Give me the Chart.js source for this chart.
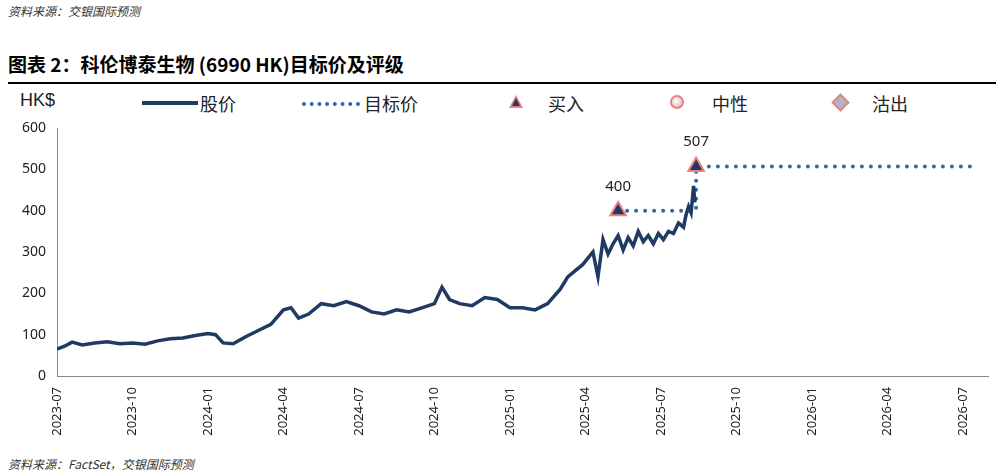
<!DOCTYPE html>
<html>
<head>
<meta charset="utf-8">
<script src="https://cdn.jsdelivr.net/npm/chart.js@4"></script>
<style>
  body { margin: 0; width: 1004px; height: 476px; background: #fff; font-family: "Noto Sans CJK SC", "Liberation Sans", sans-serif; position: relative; overflow: hidden; }
  .src { position: absolute; left: 8px; font-size: 12px; font-style: italic; color: #333; }
  #title { position: absolute; left: 8px; top: 50px; font-size: 19px; font-weight: bold; color: #000; }
  #rule { position: absolute; left: 8px; right: 8px; top: 82px; height: 2px; background: #000; }
  #legend { position: absolute; top: 90px; left: 0; width: 1004px; height: 26px; font-size: 18px; color: #222; }
  #legend span { position: absolute; top: 0; }
  #wrap { position: absolute; left: 0; top: 115px; width: 1004px; height: 335px; }
</style>
</head>
<body>
<div class="src" style="top:2px">资料来源：交银国际预测</div>
<div id="title">图表 2：科伦博泰生物 (6990 HK)目标价及评级</div>
<div id="rule"></div>
<div id="legend">
  <span style="left:20px;font-family:'Liberation Sans Narrow','Liberation Sans';">HK$</span>
  <span style="left:142px;top:11px;width:56px;height:4px;background:#1f3b63"></span>
  <span style="left:200px">股价</span>
  <span style="left:302px;top:12px;width:58px;border-top:4px dotted #2a6aad"></span>
  <span style="left:364px">目标价</span>
  <span style="left:509px;top:5px;width:0;height:0;border-left:7px solid transparent;border-right:7px solid transparent;border-bottom:13px solid #f08080"></span>
  <span style="left:512px;top:8px;width:0;height:0;border-left:4px solid transparent;border-right:4px solid transparent;border-bottom:8px solid #1f3b63"></span>
  <span style="left:548px">买入</span>
  <span style="left:670px;top:5px;width:10px;height:10px;border-radius:50%;border:2px solid #f08080;background:radial-gradient(circle at 40% 40%,#fff,#bbb)"></span>
  <span style="left:712px">中性</span>
  <span style="left:834px;top:6px;width:9px;height:9px;transform:rotate(45deg);border:2px solid #f08080;background:#a8b8c8"></span>
  <span style="left:872px">沽出</span>
</div>
<div id="wrap"><canvas id="chart"></canvas></div>
<div class="src" style="top:455px">资料来源：FactSet，交银国际预测</div>
<script>
// x = months since 2023-07
const tickMonths = [0, 3, 6, 9, 12, 15, 18, 21, 24, 27, 30, 33, 36];
const tickLabels = ['2023-07', '2023-10', '2024-01', '2024-04', '2024-07', '2024-10', '2025-01', '2025-04', '2025-07', '2025-10', '2026-01', '2026-04', '2026-07'];

const priceX = [0, 0.3, 0.6, 1, 1.5, 2, 2.5, 3, 3.5, 4, 4.5, 5, 5.5, 6, 6.3, 6.6, 7, 7.5, 8, 8.5, 9, 9.3, 9.6, 10, 10.5, 11, 11.5, 12, 12.5, 13, 13.5, 14, 14.5, 15, 15.3, 15.6, 16, 16.5, 17, 17.5, 18, 18.5, 19, 19.5, 20, 20.3, 20.6, 20.9, 21.1, 21.3, 21.5, 21.7, 21.9, 22.1, 22.3, 22.5, 22.7, 22.9, 23.1, 23.3, 23.5, 23.7, 23.9, 24.1, 24.3, 24.5, 24.7, 24.9, 25.0, 25.1, 25.2, 25.3, 25.35];
const priceY = [65, 72, 82, 75, 80, 83, 78, 80, 77, 85, 90, 92, 98, 103, 100, 80, 78, 95, 110, 125, 160, 165, 140, 150, 175, 170, 180, 170, 155, 150, 160, 155, 165, 175, 215, 185, 175, 170, 190, 185, 165, 165, 160, 175, 210, 240, 255, 270, 285, 300, 240, 330, 295, 320, 340, 305, 335, 315, 350, 325, 340, 320, 345, 330, 350, 345, 370, 360, 390, 410, 395, 460, 420];

const targetX = [22.3, 25.4, 25.4, 36.6];
const targetY = [400, 400, 507, 507];

const buyX = [22.3, 25.4];
const buyY = [400, 507];

const zip = (xs, ys) => xs.map((x, i) => ({ x: x, y: ys[i] }));

const buyLabels = {
  id: 'buyLabels',
  afterDatasetsDraw(chart) {
    const ctx = chart.ctx, xs = chart.scales.x, ys = chart.scales.y;
    ctx.save();
    ctx.font = '15px "Noto Sans", sans-serif';
    ctx.fillStyle = '#222';
    ctx.textAlign = 'center';
    buyX.forEach((x, i) => ctx.fillText(String(buyY[i]), xs.getPixelForValue(x), ys.getPixelForValue(buyY[i]) - 20));
    ctx.restore();
  }
};

new Chart(document.getElementById('chart'), {
  type: 'line',
  data: {
    datasets: [{
      label: '买入',
      data: zip(buyX, buyY),
      showLine: false,
      pointStyle: 'triangle',
      pointRadius: 9,
      pointBackgroundColor: '#1f3b63',
      pointBorderColor: '#f08080',
      pointBorderWidth: 2
    }, {
      label: '股价',
      data: zip(priceX, priceY),
      borderColor: '#1f3b63',
      borderWidth: 3.5,
      pointRadius: 0,
      tension: 0
    }, {
      label: '目标价',
      data: zip(targetX, targetY),
      borderColor: '#2a6aad',
      borderWidth: 4,
      borderDash: [0, 9],
      borderCapStyle: 'round',
      pointRadius: 0,
      tension: 0
    }]
  },
  options: {
    responsive: true,
    maintainAspectRatio: false,
    animation: false,
    layout: { padding: { top: 13, right: 16 } },
    plugins: { legend: { display: false }, tooltip: { enabled: false } },
    scales: {
      x: {
        type: 'linear', min: 0, max: 37,
        grid: { display: false },
        border: { color: '#888' },
        afterBuildTicks: (axis) => { axis.ticks = tickMonths.map(v => ({ value: v })); },
        afterFit: (axis) => { axis.height = 74; },
        ticks: {
          autoSkip: false, maxRotation: 90, minRotation: 90,
          color: '#222', font: { size: 13, family: '"Noto Sans", sans-serif' },
          callback: (v) => tickLabels[tickMonths.indexOf(v)]
        }
      },
      y: {
        min: 0, max: 600,
        grid: { display: false },
        border: { color: '#888' },
        afterFit: (axis) => { axis.width = 57; },
        ticks: { stepSize: 100, color: '#222', font: { size: 14, family: '"Noto Sans", sans-serif' } }
      }
    }
  },
  plugins: [buyLabels]
});
</script>
</body>
</html>
